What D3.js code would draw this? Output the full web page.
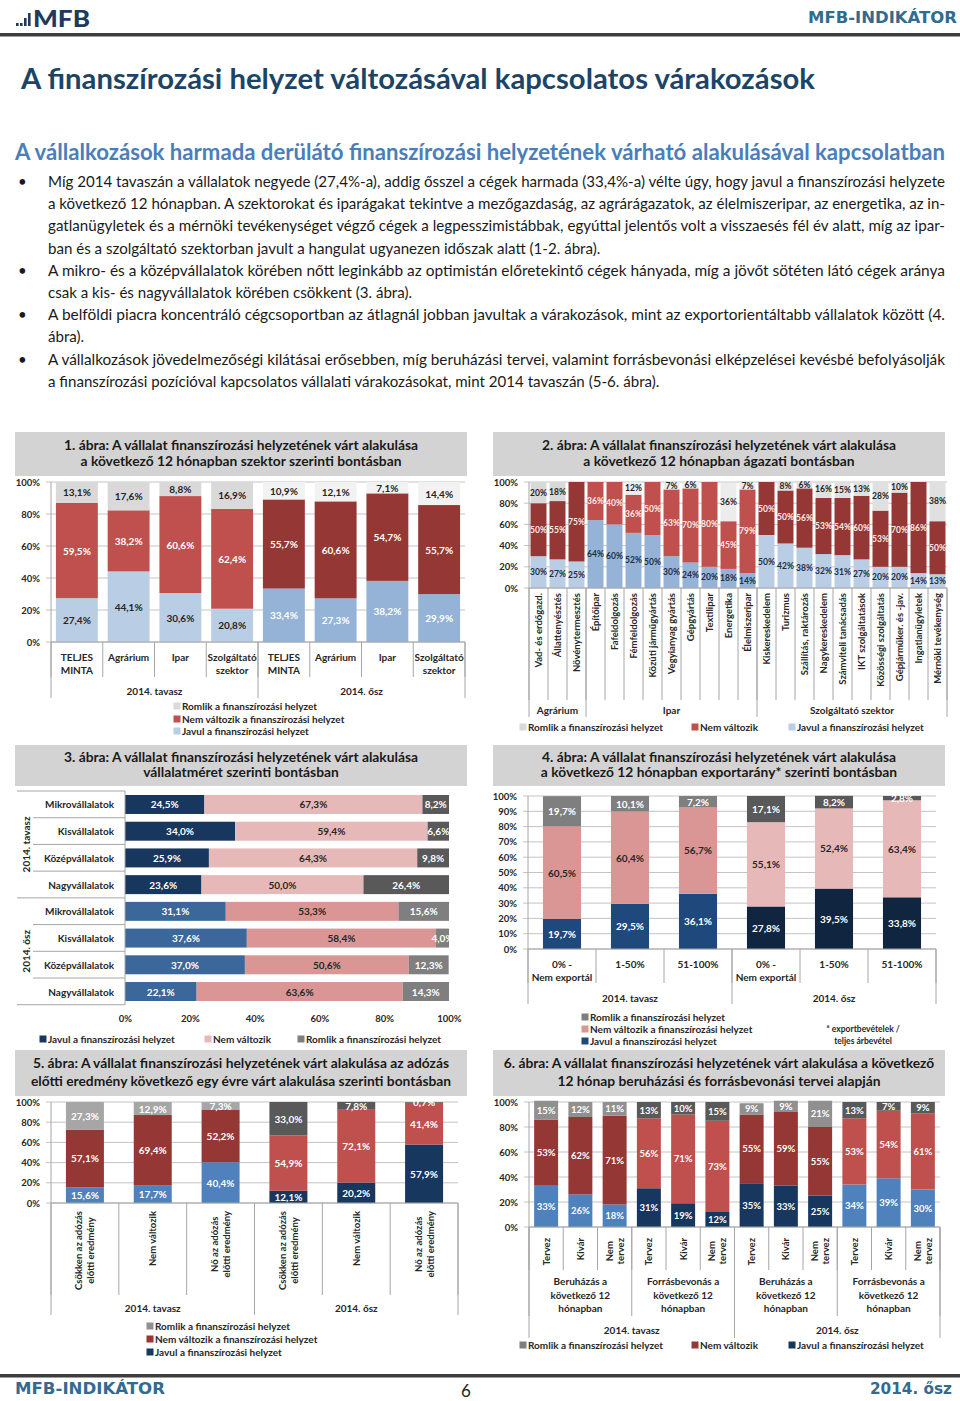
<!DOCTYPE html>
<html lang="hu">
<head>
<meta charset="UTF-8">
<title>A finanszírozási helyzet változásával kapcsolatos várakozások</title>
<script src="https://cdn.jsdelivr.net/npm/d3@7"></script>
<style>
  body { margin: 0; background: #fff; }
  svg { display: block; font-family: Lato, "Open Sans", sans-serif; }
</style>
</head>
<body>
<svg id="page" width="960" height="1401"></svg>
<script>
// ---------- text ----------
const bodyLines = [
  "Míg 2014 tavaszán a vállalatok negyede (27,4%-a), addig ősszel a cégek harmada (33,4%-a) vélte úgy, hogy javul a finanszírozási helyzete",
  "a következő 12 hónapban. A szektorokat és iparágakat tekintve a mezőgazdaság, az agrárágazatok, az élelmiszeripar, az energetika, az in-",
  "gatlanügyletek és a mérnöki tevékenységet végző cégek a legpesszimistábbak, egyúttal jelentős volt a visszaesés fél év alatt, míg az ipar-",
  "ban és a szolgáltató szektorban javult a hangulat ugyanezen időszak alatt (1-2. ábra).",
  "A mikro- és a középvállalatok körében nőtt leginkább az optimistán előretekintő cégek hányada, míg a jövőt sötéten látó cégek aránya",
  "csak a kis- és nagyvállalatok körében csökkent (3. ábra).",
  "A belföldi piacra koncentráló cégcsoportban az átlagnál jobban javultak a várakozások, mint az exportorientáltabb vállalatok között (4.",
  "ábra).",
  "A vállalkozások jövedelmezőségi kilátásai erősebben, míg beruházási tervei, valamint forrásbevonási elképzelései kevésbé befolyásolják",
  "a finanszírozási pozícióval kapcsolatos vállalati várakozásokat, mint 2014 tavaszán (5-6. ábra)."
];
const bulletLines = [0, 4, 6, 8];
const endLines = [3, 5, 7, 9];

const seasons = ["2014. tavasz", "2014. ősz"];
const lgRomlik = "Romlik a finanszírozási helyzet";
const lgNem = "Nem változik a finanszírozási helyzet";
const lgJavul = "Javul a finanszírozási helyzet";

// ---------- 1. ábra ----------
const c1Title = ["1. ábra: A vállalat finanszírozási helyzetének várt alakulása", "a következő 12 hónapban szektor szerinti bontásban"];
const c1Cats = ["TELJES\nMINTA", "Agrárium", "Ipar", "Szolgáltató\nszektor", "TELJES\nMINTA", "Agrárium", "Ipar", "Szolgáltató\nszektor"];
const c1Javul = [27.4, 44.1, 30.6, 20.8, 33.4, 27.3, 38.2, 29.9];
const c1Nem = [59.5, 38.2, 60.6, 62.4, 55.7, 60.6, 54.7, 55.7];
const c1Romlik = [13.1, 17.6, 8.8, 16.9, 10.9, 12.1, 7.1, 14.4];

// ---------- 2. ábra ----------
const c2Title = ["2. ábra: A vállalat finanszírozási helyzetének várt alakulása", "a következő 12 hónapban ágazati bontásban"];
const c2Cats = ["Vad- és erdőgazd.", "Állattenyésztés", "Növénytermesztés", "Építőipar", "Fafeldolgozás", "Fémfeldolgozás",
  "Közúti járműgyártás", "Vegyianyag gyártás", "Gépgyártás", "Textilipar", "Energetika", "Élelmiszeripar",
  "Kiskereskedelem", "Turizmus", "Szállítás, raktározás", "Nagykereskedelem", "Számviteli tanácsadás", "IKT szolgáltatások",
  "Közösségi szolgáltatás", "Gépjárműker. és -jav.", "Ingatlanügyletek", "Mérnöki tevékenység"];
const c2Groups = ["Agrárium", "Ipar", "Szolgáltató szektor"];
const c2GroupSize = [3, 9, 10];
const c2Javul = [30, 27, 25, 64, 60, 52, 50, 30, 24, 20, 18, 14, 50, 42, 38, 32, 31, 27, 20, 20, 14, 13];
const c2Nem = [50, 55, 75, 36, 40, 36, 50, 63, 70, 80, 45, 79, 50, 50, 56, 53, 54, 60, 53, 70, 86, 50];
const c2Romlik = [20, 18, 0, 0, 0, 12, 0, 7, 6, 0, 36, 7, 0, 8, 6, 16, 15, 13, 28, 10, 0, 38];

// ---------- 3. ábra ----------
const c3Title = ["3. ábra: A vállalat finanszírozási helyzetének várt alakulása", "vállalatméret szerinti bontásban"];
const c3Cats = ["Mikrovállalatok", "Kisvállalatok", "Középvállalatok", "Nagyvállalatok", "Mikrovállalatok", "Kisvállalatok", "Középvállalatok", "Nagyvállalatok"];
const c3Javul = [24.5, 34.0, 25.9, 23.6, 31.1, 37.6, 37.0, 22.1];
const c3Nem = [67.3, 59.4, 64.3, 50.0, 53.3, 58.4, 50.6, 63.6];
const c3Romlik = [8.2, 6.6, 9.8, 26.4, 15.6, 4.0, 12.3, 14.3];

// ---------- 4. ábra ----------
const c4Title = ["4. ábra: A vállalat finanszírozási helyzetének várt alakulása", "a következő 12 hónapban exportarány* szerinti bontásban"];
const c4Cats = ["0% -\nNem exportál", "1-50%", "51-100%", "0% -\nNem exportál", "1-50%", "51-100%"];
const c4Javul = [19.7, 29.5, 36.1, 27.8, 39.5, 33.8];
const c4Nem = [60.5, 60.4, 56.7, 55.1, 52.4, 63.4];
const c4Romlik = [19.7, 10.1, 7.2, 17.1, 8.2, 2.8];
const c4Note = ["* exportbevételek /", "teljes árbevétel"];

// ---------- 5. ábra ----------
const c5Title = ["5. ábra: A vállalat finanszírozási helyzetének várt alakulása az adózás", "előtti eredmény következő egy évre várt alakulása szerinti bontásban"];
const c5Cats = ["Csökken az adózás\nelőtti eredmény", "Nem változik", "Nő az adózás\nelőtti  eredmény", "Csökken az adózás\nelőtti eredmény", "Nem változik", "Nő az adózás\nelőtti  eredmény"];
const c5Javul = [15.6, 17.7, 40.4, 12.1, 20.2, 57.9];
const c5Nem = [57.1, 69.4, 52.2, 54.9, 72.1, 41.4];
const c5Romlik = [27.3, 12.9, 7.3, 33.0, 7.8, 0.7];

// ---------- 6. ábra ----------
const c6Title = ["6. ábra: A vállalat finanszírozási helyzetének várt alakulása a következő", "12 hónap beruházási és forrásbevonási tervei alapján"];
const c6Cats = ["Tervez", "Kivár", "Nem\ntervez", "Tervez", "Kivár", "Nem\ntervez", "Tervez", "Kivár", "Nem\ntervez", "Tervez", "Kivár", "Nem\ntervez"];
const c6Plans = ["Beruházás a\nkövetkező 12\nhónapban", "Forrásbevonás a\nkövetkező 12\nhónapban", "Beruházás a\nkövetkező 12\nhónapban", "Forrásbevonás a\nkövetkező 12\nhónapban"];
const c6Javul = [33, 26, 18, 31, 19, 12, 35, 33, 25, 34, 39, 30];
const c6Nem = [53, 62, 71, 56, 71, 73, 55, 59, 55, 53, 54, 61];
const c6Romlik = [15, 12, 11, 13, 10, 15, 9, 9, 21, 13, 7, 9];

// ---------- colours ----------
const col = {
  navy: "#17375e", navyDark: "#10253f", navyMid: "#1f497d", steel: "#3c679b", blue: "#4f81bd",
  skyLight: "#b9cde5", sky: "#95b3d7",
  red: "#c0504d", redDark: "#953735", pink: "#e6b9b8", rose: "#d99694",
  g1: "#f2f2f2", g2: "#d9d9d9", g3: "#a6a6a6", g35: "#909090", g4: "#7f7f7f", g5: "#595959"
};
const ink = "#262626";

const svg = d3.select("#page");
const natural = t => t.node().getComputedTextLength();
const fit = (t, w) => t.attr("textLength", w).attr("lengthAdjust", "spacingAndGlyphs");
const pct1 = v => v.toFixed(1).replace(".", ",") + "%";
const pct0 = v => Math.round(v) + "%";

function label(g, x, y, s, size, opt = {}) {
  return g.append("text").attr("x", x).attr("y", y)
    .attr("font-size", size).attr("font-weight", opt.weight || 700)
    .attr("fill", opt.fill || ink).attr("text-anchor", opt.anchor || "middle")
    .attr("dominant-baseline", "central").text(s);
}

// ---------- page header ----------
const head = svg.append("g");
head.selectAll("rect.logo").data([[16, 23, 3], [20, 23, 3], [24, 18, 8], [28, 13, 13]]).join("rect")
  .attr("x", d => d[0]).attr("y", d => d[1]).attr("width", 2.6).attr("height", d => d[2]).attr("fill", "#213a5c");
fit(head.append("text").attr("x", 33).attr("y", 27).attr("font-size", 23).attr("font-weight", 900)
  .attr("fill", "#213a5c").text("MFB"), 57);
fit(head.append("text").attr("x", 957).attr("y", 23).attr("text-anchor", "end").attr("font-size", 15)
  .attr("font-weight", 700).attr("font-family", "'DejaVu Sans', sans-serif").attr("fill", "#336a90").text("MFB-INDIKÁTOR"), 149);
head.append("rect").attr("x", 0).attr("y", 33).attr("width", 960).attr("height", 3.5).attr("fill", "#3d3d3d");

fit(head.append("text").attr("x", 21).attr("y", 89).attr("font-size", 29).attr("font-weight", 700)
  .attr("fill", "#1b4566").text("A finanszírozási helyzet változásával kapcsolatos várakozások"), 794);
fit(head.append("text").attr("x", 15).attr("y", 160).attr("font-size", 22).attr("font-weight", 700)
  .attr("fill", "#4a7ebb").text("A vállalkozások harmada derülátó finanszírozási helyzetének várható alakulásával kapcsolatban"), 930);

// body paragraphs
const body = svg.append("g").attr("font-size", 15).attr("fill", "#1a1a1a");
const bodyTexts = bodyLines.map((s, i) => body.append("text").attr("x", 48).attr("y", 187 + i * 22.2).text(s));
const kBody = 897 / natural(bodyTexts[1]);
bodyTexts.forEach((t, i) => fit(t, endLines.includes(i) ? natural(t) * kBody : 897));
bulletLines.forEach(i => body.append("text").attr("x", 18).attr("y", 187 + i * 22.2).attr("font-size", 15).text("•"));

// ---------- panel helpers ----------
let kTitle = null;
function panelTitle(x0, x1, y0, y1, lines) {
  svg.append("rect").attr("x", x0).attr("y", y0).attr("width", x1 - x0).attr("height", y1 - y0).attr("fill", "#d3d3d3");
  const h = (y1 - y0);
  lines.forEach((s, j) => {
    const t = svg.append("text").attr("x", (x0 + x1) / 2).attr("y", y0 + h * (0.29 + j * 0.38))
      .attr("text-anchor", "middle").attr("dominant-baseline", "central")
      .attr("font-size", 13.5).attr("font-weight", 700).attr("fill", "#1a1a1a").text(s);
    if (kTitle === null) kTitle = 354 / natural(t);
    fit(t, natural(t) * kTitle);
  });
}

function legend(items, pos, size = 10) {
  const g = svg.append("g");
  items.forEach((it, i) => {
    const [x, y] = pos[i];
    g.append("rect").attr("x", x - 8.5).attr("y", y - 3.5).attr("width", 7).attr("height", 7).attr("fill", it[1]);
    label(g, x, y, it[0], size, { anchor: "start" });
  });
}

// stacked columns with multi-level category axis
function columns(o) {
  const n = o.cats.length;
  const x = d3.scaleBand().domain(d3.range(n)).range([o.left, o.right]).paddingInner(o.pad).paddingOuter(o.pad / 2);
  const y = d3.scaleLinear().domain([0, 100]).range([o.bottom, o.top]);
  const g = svg.append("g");

  g.append("g").selectAll("line").data(o.ticks).join("line")
    .attr("x1", o.left - 5).attr("x2", o.right)
    .attr("y1", d => y(d)).attr("y2", d => y(d)).attr("stroke", "#c4c4c4");
  g.append("g").attr("transform", `translate(${o.left},0)`)
    .call(d3.axisLeft(y).tickValues(o.ticks).tickSize(5).tickPadding(6).tickFormat(d => d + "%"))
    .attr("font-family", null).attr("font-size", 9.5).attr("font-weight", 700)
    .call(a => a.select(".domain").remove())
    .call(a => a.selectAll(".tick line").remove())
    .call(a => a.selectAll("text").attr("fill", ink));
  g.append("line").attr("x1", o.left).attr("x2", o.left).attr("y1", o.top).attr("y2", o.bottom).attr("stroke", "#a6a6a6");

  const layers = d3.stack().keys(d3.range(o.series.length)).value((i, k) => o.series[k][i])(d3.range(n));
  layers.forEach((layer, s) => {
    g.append("g").selectAll("rect").data(layer).join("rect")
      .attr("x", p => x(p.data)).attr("width", x.bandwidth())
      .attr("y", p => y(p[1])).attr("height", p => y(p[0]) - y(p[1]))
      .attr("fill", p => o.fill(s, p.data));
  });
  layers.forEach((layer, s) => {
    g.append("g").selectAll("text").data(layer.filter(p => o.series[s][p.data] > 0)).join("text")
      .attr("x", p => x(p.data) + x.bandwidth() / 2)
      .attr("y", p => y((p[0] + p[1]) / 2))
      .attr("text-anchor", "middle").attr("dominant-baseline", "central")
      .attr("font-size", o.labelSize).attr("font-weight", 700)
      .attr("fill", p => o.ink(s, p.data))
      .text(p => o.fmt(o.series[s][p.data]));
  });
  g.append("line").attr("x1", o.left).attr("x2", o.right).attr("y1", o.bottom).attr("y2", o.bottom).attr("stroke", "#a6a6a6");

  const step = x.step();
  o.levels.forEach(lv => {
    const spans = lv.spans || o.cats.map(() => 1);
    const names = lv.labels || o.cats;
    const lh = lv.lh || 13;
    const bounds = [0, ...d3.cumsum(spans)];
    g.append("g").selectAll("line").data(bounds).join("line")
      .attr("x1", b => o.left + b * step).attr("x2", b => o.left + b * step)
      .attr("y1", o.bottom).attr("y2", lv.depth).attr("stroke", "#a6a6a6");
    names.forEach((name, j) => {
      const cx = o.left + (bounds[j] + spans[j] / 2) * step;
      const lines = name.split("\n");
      if (lv.rotate) {
        const ts = lines.map(s => label(g, 0, 0, s, lv.size));
        const L = d3.max(ts, natural);
        ts.forEach((t, m) => t.attr("transform",
          `translate(${cx + (m - (lines.length - 1) / 2) * lh},${lv.top + L / 2}) rotate(-90)`));
      } else {
        lines.forEach((s, m) => label(g, cx, lv.y + m * lh, s, lv.size));
      }
    });
  });
}

// ---------- 1. ábra ----------
const pal1 = [[col.skyLight, col.red, col.g2], [col.sky, col.redDark, col.g1]];
const ink1 = [[ink, "#fff", ink], ["#fff", "#fff", ink]];
columns({
  cats: c1Cats, series: [c1Javul, c1Nem, c1Romlik],
  left: 51, right: 465, top: 482, bottom: 642, pad: 0.19,
  ticks: [0, 20, 40, 60, 80, 100], labelSize: 10, fmt: pct1,
  fill: (s, i) => pal1[i < 4 ? 0 : 1][s], ink: (s, i) => ink1[i < 4 ? 0 : 1][s],
  levels: [
    { depth: 677, y: 657, lh: 13, size: 10 },
    { spans: [4, 4], labels: seasons, depth: 698, y: 691, size: 10 }
  ]
});
panelTitle(15, 467, 432, 476, c1Title);
legend([[lgRomlik, col.g2], [lgNem, col.red], [lgJavul, col.skyLight]], [[182, 706], [182, 719], [182, 731]]);

// ---------- 2. ábra ----------
const grp2 = i => (i < 3 ? 0 : i < 12 ? 1 : 2);
const pal2 = [[col.skyLight, col.redDark, col.g2], [col.sky, col.red, "#ececec"], [col.skyLight, col.redDark, "#e0e0e0"]];
const ink2 = ["#1f2d45", "#fbeaea", ink];
columns({
  cats: c2Cats, series: [c2Javul, c2Nem, c2Romlik],
  left: 529, right: 947, top: 482, bottom: 588, pad: 0.16,
  ticks: [0, 20, 40, 60, 80, 100], labelSize: 8.5, fmt: pct0,
  fill: (s, i) => pal2[grp2(i)][s], ink: s => ink2[s],
  levels: [
    { rotate: true, top: 593, depth: 700, lh: 11, size: 9.5 },
    { spans: c2GroupSize, labels: c2Groups, depth: 717, y: 710, size: 10 }
  ]
});
panelTitle(493, 945, 432, 476, c2Title);
legend([[lgRomlik, col.g2], ["Nem változik", col.red], [lgJavul, col.skyLight]], [[528, 727], [700, 727], [797, 727]]);

// ---------- 3. ábra ----------
{
  const g = svg.append("g");
  const y = d3.scaleBand().domain(d3.range(c3Cats.length)).range([791, 1005]).paddingInner(0.29).paddingOuter(0.15);
  const x = d3.scaleLinear().domain([0, 100]).range([125, 449]);
  const pal3 = [[col.navy, col.pink, col.g5], [col.steel, col.rose, col.g4]];
  const ink3 = ["#fff", ink, "#fff"];
  const series = [c3Javul, c3Nem, c3Romlik];
  const layers = d3.stack().keys(d3.range(3)).value((i, k) => series[k][i])(d3.range(c3Cats.length));
  layers.forEach((layer, s) => {
    g.append("g").selectAll("rect").data(layer).join("rect")
      .attr("y", p => y(p.data)).attr("height", y.bandwidth())
      .attr("x", p => x(p[0])).attr("width", p => x(p[1]) - x(p[0]))
      .attr("fill", p => pal3[p.data < 4 ? 0 : 1][s]);
  });
  layers.forEach((layer, s) => {
    g.append("g").selectAll("text").data(layer).join("text")
      .attr("x", p => x((p[0] + p[1]) / 2)).attr("y", p => y(p.data) + y.bandwidth() / 2)
      .attr("text-anchor", "middle").attr("dominant-baseline", "central")
      .attr("font-size", 10).attr("font-weight", 700).attr("fill", ink3[s])
      .text(p => pct1(series[s][p.data]));
  });
  const step = y.step();
  g.append("g").selectAll("line").data(d3.range(c3Cats.length + 1)).join("line")
    .attr("x1", b => (b % 4 === 0 ? 17 : 33)).attr("x2", 125)
    .attr("y1", b => 791 + b * step).attr("y2", b => 791 + b * step).attr("stroke", "#a6a6a6");
  g.append("line").attr("x1", 125).attr("x2", 125).attr("y1", 791).attr("y2", 1005).attr("stroke", "#a6a6a6");
  c3Cats.forEach((c, i) => label(g, 114, y(i) + y.bandwidth() / 2, c, 10, { anchor: "end" }));
  seasons.forEach((s, j) => label(g, 0, 0, s, 10)
    .attr("transform", `translate(26,${791 + (j * 4 + 2) * step}) rotate(-90)`));
  g.append("g").attr("transform", "translate(0,1007)")
    .call(d3.axisBottom(x).tickValues([0, 20, 40, 60, 80, 100]).tickSize(0).tickPadding(8).tickFormat(d => d + "%"))
    .attr("font-family", null).attr("font-size", 9.5).attr("font-weight", 700)
    .call(a => a.select(".domain").remove())
    .call(a => a.selectAll("text").attr("fill", ink));
}
panelTitle(15, 467, 745, 786, c3Title);
legend([[lgJavul, col.navy], ["Nem változik", col.pink], [lgRomlik, col.g4]], [[48, 1039], [213, 1039], [306, 1039]]);

// ---------- 4. ábra ----------
const pal4 = [[col.navyMid, col.rose, col.g4], [col.navyDark, col.pink, col.g5]];
const ink4 = ["#fff", ink, "#fff"];
columns({
  cats: c4Cats, series: [c4Javul, c4Nem, c4Romlik],
  left: 528, right: 936, top: 796, bottom: 949, pad: 0.44,
  ticks: d3.range(0, 101, 10), labelSize: 10, fmt: pct1,
  fill: (s, i) => pal4[i < 3 ? 0 : 1][s], ink: s => ink4[s],
  levels: [
    { depth: 983, y: 964, lh: 13, size: 10 },
    { spans: [3, 3], labels: seasons, depth: 1004, y: 998, size: 10 }
  ]
});
panelTitle(493, 945, 745, 786, c4Title);
legend([[lgRomlik, col.g4], [lgNem, col.rose], [lgJavul, col.navyMid]], [[590, 1017], [590, 1029], [590, 1041]]);
c4Note.forEach((s, j) => label(svg, 863, 1029 + j * 12, s, 8.5));

// ---------- 5. ábra ----------
const pal5 = [[col.blue, col.redDark, col.g3], [col.navy, col.red, col.g5]];
columns({
  cats: c5Cats, series: [c5Javul, c5Nem, c5Romlik],
  left: 51, right: 458, top: 1102, bottom: 1203, pad: 0.44,
  ticks: [0, 20, 40, 60, 80, 100], labelSize: 10, fmt: pct1,
  fill: (s, i) => pal5[i < 3 ? 0 : 1][s], ink: () => "#fff",
  levels: [
    { rotate: true, top: 1211, depth: 1295, lh: 12, size: 9.5 },
    { spans: [3, 3], labels: seasons, depth: 1315, y: 1308, size: 10 }
  ]
});
panelTitle(15, 467, 1050, 1096, c5Title);
legend([[lgRomlik, col.g35], [lgNem, col.redDark], [lgJavul, col.navy]], [[155, 1326], [155, 1339], [155, 1352]]);

// ---------- 6. ábra ----------
const pal6 = [[col.blue, col.redDark, col.g35], [col.navy, col.red, col.g5], [col.navy, col.redDark, col.g35], [col.blue, col.red, col.g5]];
columns({
  cats: c6Cats, series: [c6Javul, c6Nem, c6Romlik],
  left: 529, right: 940, top: 1102, bottom: 1227, pad: 0.3,
  ticks: [0, 20, 40, 60, 80, 100], labelSize: 9.5, fmt: pct0,
  fill: (s, i) => pal6[Math.floor(i / 3)][s], ink: () => "#fff",
  levels: [
    { rotate: true, top: 1238, depth: 1270, lh: 11, size: 9.5 },
    { spans: [3, 3, 3, 3], labels: c6Plans, depth: 1316, y: 1281, lh: 13.5, size: 10 },
    { spans: [6, 6], labels: seasons, depth: 1338, y: 1330, size: 10 }
  ]
});
panelTitle(493, 945, 1050, 1096, c6Title);
legend([[lgRomlik, col.g4], ["Nem változik", col.redDark], [lgJavul, col.navy]], [[528, 1345], [700, 1345], [797, 1345]]);

// ---------- page footer ----------
const foot = svg.append("g");
foot.append("rect").attr("x", 0).attr("y", 1374).attr("width", 960).attr("height", 3.5).attr("fill", "#3d3d3d");
fit(foot.append("text").attr("x", 15).attr("y", 1394).attr("font-size", 15).attr("font-weight", 700)
  .attr("font-family", "'DejaVu Sans', sans-serif").attr("fill", "#336a90").text("MFB-INDIKÁTOR"), 150);
foot.append("text").attr("x", 466).attr("y", 1397).attr("text-anchor", "middle").attr("font-size", 17)
  .attr("fill", "#222").text("6");
fit(foot.append("text").attr("x", 952).attr("y", 1394).attr("text-anchor", "end").attr("font-size", 15).attr("font-weight", 700)
  .attr("font-family", "'DejaVu Sans', sans-serif").attr("fill", "#336a90").text("2014. ősz"), 82);
</script>
</body>
</html>
